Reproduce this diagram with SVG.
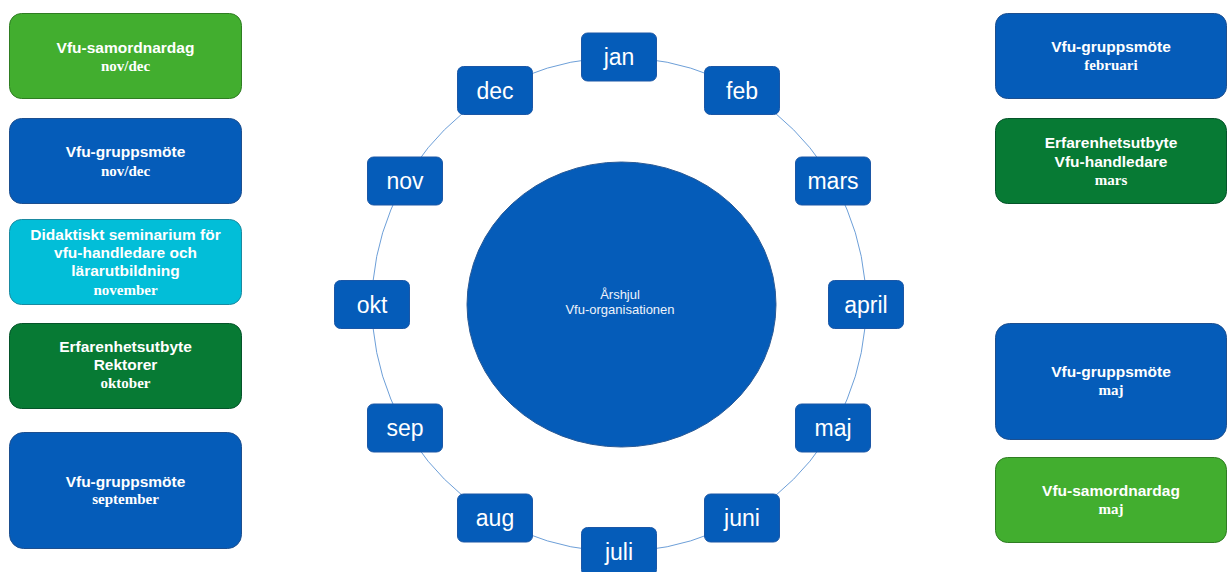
<svg xmlns="http://www.w3.org/2000/svg" width="1227" height="572" viewBox="0 0 1227 572">
<style>
.bx{stroke-width:1}
.blue{fill:#055cb9;stroke:#1d4f8f}
.lg{fill:#42ae2f;stroke:#2f7d22}
.dg{fill:#077a34;stroke:#05542a}
.cy{fill:#02bed8;stroke:#1a8aa0}
.t{font-family:"Liberation Sans",Arial,sans-serif;font-weight:bold;font-size:15.5px;fill:#fff;text-anchor:middle}
.s{font-family:"Liberation Serif","Times New Roman",serif;font-weight:bold;font-size:15px;fill:#fff;text-anchor:middle}
.m{fill:#055cb9;stroke:#1b57a6;stroke-width:1}
.mt{font-family:"Liberation Sans",Arial,sans-serif;font-size:23px;fill:#fff;text-anchor:middle}
.ct{font-family:"Liberation Sans",Arial,sans-serif;font-size:13px;fill:#eef3fb;text-anchor:middle}
</style>
<rect width="1227" height="572" fill="#fff"/>
<g id="connectors">
<circle cx="619" cy="304.5" r="247" fill="none" stroke="#6d9fd8" stroke-width="1"/>
</g>
<g id="center">
<ellipse cx="621.5" cy="304.5" rx="154.5" ry="142.5" fill="#055cb9" stroke="#2a5a96" stroke-width="1"/>
<text class="ct" x="620" y="299">Årshjul</text>
<text class="ct" x="620" y="314">Vfu-organisationen</text>
</g>
<g id="m-jan"><rect class="m" x="581.5" y="33" width="75" height="48" rx="6"/><text class="mt" x="619" y="65">jan</text></g>
<g id="m-feb"><rect class="m" x="704.5" y="66.5" width="75" height="48" rx="6"/><text class="mt" x="742" y="98.5">feb</text></g>
<g id="m-mars"><rect class="m" x="795.5" y="157" width="75" height="48" rx="6"/><text class="mt" x="833" y="189">mars</text></g>
<g id="m-april"><rect class="m" x="828.5" y="280.5" width="75" height="48" rx="6"/><text class="mt" x="866" y="312.5">april</text></g>
<g id="m-maj"><rect class="m" x="795.5" y="404" width="75" height="48" rx="6"/><text class="mt" x="833" y="436">maj</text></g>
<g id="m-juni"><rect class="m" x="704.5" y="494" width="75" height="48" rx="6"/><text class="mt" x="742" y="526">juni</text></g>
<g id="m-juli"><rect class="m" x="581.5" y="527.5" width="75" height="48" rx="6"/><text class="mt" x="619" y="559.5">juli</text></g>
<g id="m-aug"><rect class="m" x="457.5" y="494" width="75" height="48" rx="6"/><text class="mt" x="495" y="526">aug</text></g>
<g id="m-sep"><rect class="m" x="367.5" y="404" width="75" height="48" rx="6"/><text class="mt" x="405" y="436">sep</text></g>
<g id="m-okt"><rect class="m" x="334.5" y="280.5" width="75" height="48" rx="6"/><text class="mt" x="372" y="312.5">okt</text></g>
<g id="m-nov"><rect class="m" x="367.5" y="157" width="75" height="48" rx="6"/><text class="mt" x="405" y="189">nov</text></g>
<g id="m-dec"><rect class="m" x="457.5" y="66.5" width="75" height="48" rx="6"/><text class="mt" x="495" y="98.5">dec</text></g>

<g id="l1"><rect class="bx lg" x="9.5" y="13.5" width="232" height="85" rx="12"/><text class="t" x="125.5" y="53">Vfu-samordnardag</text><text class="s" x="125.5" y="71">nov/dec</text></g>
<g id="l2"><rect class="bx blue" x="9.5" y="118.5" width="232" height="85" rx="12"/><text class="t" x="125.5" y="157">Vfu-gruppsmöte</text><text class="s" x="125.5" y="176">nov/dec</text></g>
<g id="l3"><rect class="bx cy" x="9.5" y="219.5" width="232" height="85" rx="12"/><text class="t" x="125.5" y="240">Didaktiskt seminarium för</text><text class="t" x="125.5" y="258">vfu-handledare och</text><text class="t" x="125.5" y="276">lärarutbildning</text><text class="s" x="125.5" y="295">november</text></g>
<g id="l4"><rect class="bx dg" x="9.5" y="323.5" width="232" height="85" rx="12"/><text class="t" x="125.5" y="352">Erfarenhetsutbyte</text><text class="t" x="125.5" y="370">Rektorer</text><text class="s" x="125.5" y="388">oktober</text></g>
<g id="l5"><rect class="bx blue" x="9.5" y="432.5" width="232" height="116" rx="14"/><text class="t" x="125.5" y="487">Vfu-gruppsmöte</text><text class="s" x="125.5" y="504">september</text></g>

<g id="r1"><rect class="bx blue" x="995.5" y="13.5" width="231" height="85" rx="12"/><text class="t" x="1111" y="52">Vfu-gruppsmöte</text><text class="s" x="1111" y="70">februari</text></g>
<g id="r2"><rect class="bx dg" x="995.5" y="118.5" width="231" height="85" rx="12"/><text class="t" x="1111" y="148">Erfarenhetsutbyte</text><text class="t" x="1111" y="166.5">Vfu-handledare</text><text class="s" x="1111" y="184.5">mars</text></g>
<g id="r3"><rect class="bx blue" x="995.5" y="323.5" width="231" height="116" rx="14"/><text class="t" x="1111" y="377">Vfu-gruppsmöte</text><text class="s" x="1111" y="394.5">maj</text></g>
<g id="r4"><rect class="bx lg" x="995.5" y="457.5" width="231" height="85" rx="12"/><text class="t" x="1111" y="496">Vfu-samordnardag</text><text class="s" x="1111" y="513.5">maj</text></g>
</svg>
